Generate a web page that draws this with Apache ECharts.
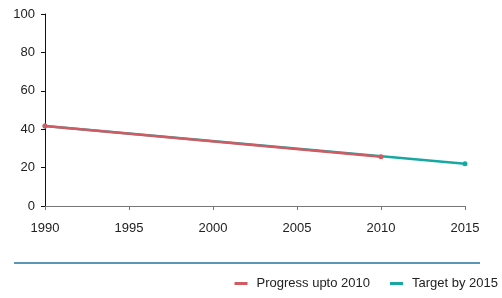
<!DOCTYPE html>
<html>
<head>
<meta charset="utf-8">
<script src="https://cdn.jsdelivr.net/npm/echarts@6/dist/echarts.min.js"></script>
<style>
  html, body { margin: 0; padding: 0; background: #fff; }
  #chart { width: 502px; height: 298px; }
</style>
</head>
<body>
<div id="chart"></div>
<script>
const seriesNames = ['Progress upto 2010', 'Target by 2015'];
const progressYears = [1990, 2010];
const progressValues = [41.7, 25.6];
const targetYears = [1990, 2015];
const targetValues = [41.7, 22.0];
const yTicks = [0, 20, 40, 60, 80, 100];

const chart = echarts.init(document.getElementById('chart'));
const font = 'Liberation Sans, Arial, sans-serif';

const option = {
  animation: false,
  grid: { left: 45, right: 37, top: 14, bottom: 92 },
  legend: {
    right: 4,
    top: 277,
    padding: 0,
    icon: 'rect',
    itemWidth: 13,
    itemHeight: 3,
    itemGap: 20,
    textStyle: { fontFamily: font, fontSize: 13, color: '#222', padding: [0, 0, 0, 4] },
    data: seriesNames
  },
  xAxis: {
    type: 'value',
    min: 1990,
    max: 2015,
    interval: 5,
    axisLine: { lineStyle: { color: '#777', width: 1 } },
    axisTick: { show: true, length: 4, lineStyle: { color: '#777' } },
    axisLabel: { color: '#222', fontFamily: font, fontSize: 13, margin: 16, formatter: v => String(v) },
    splitLine: { show: false }
  },
  yAxis: {
    type: 'value',
    min: yTicks[0],
    max: yTicks[yTicks.length - 1],
    interval: 20,
    axisLine: { show: true, lineStyle: { color: '#111', width: 1 } },
    axisTick: { show: true, length: 4, lineStyle: { color: '#111' } },
    axisLabel: { color: '#222', fontFamily: font, fontSize: 13, margin: 10 },
    splitLine: { show: false }
  },
  graphic: [{
    type: 'line',
    shape: { x1: 14, y1: 263, x2: 480, y2: 263 },
    style: { stroke: '#23759e', lineWidth: 1.5 }
  }],
  series: [
    {
      name: seriesNames[1],
      type: 'line',
      data: targetYears.map((y, i) => [y, targetValues[i]]),
      symbol: 'circle',
      symbolSize: 5,
      itemStyle: { color: '#17a8a2' },
      lineStyle: { width: 2.5, color: '#17a8a2' },
      z: 2
    },
    {
      name: seriesNames[0],
      type: 'line',
      data: progressYears.map((y, i) => [y, progressValues[i]]),
      symbol: 'circle',
      symbolSize: 5,
      itemStyle: { color: '#d25a62' },
      lineStyle: { width: 2.5, color: '#d25a62' },
      z: 3
    }
  ]
};
chart.setOption(option);
</script>
</body>
</html>
